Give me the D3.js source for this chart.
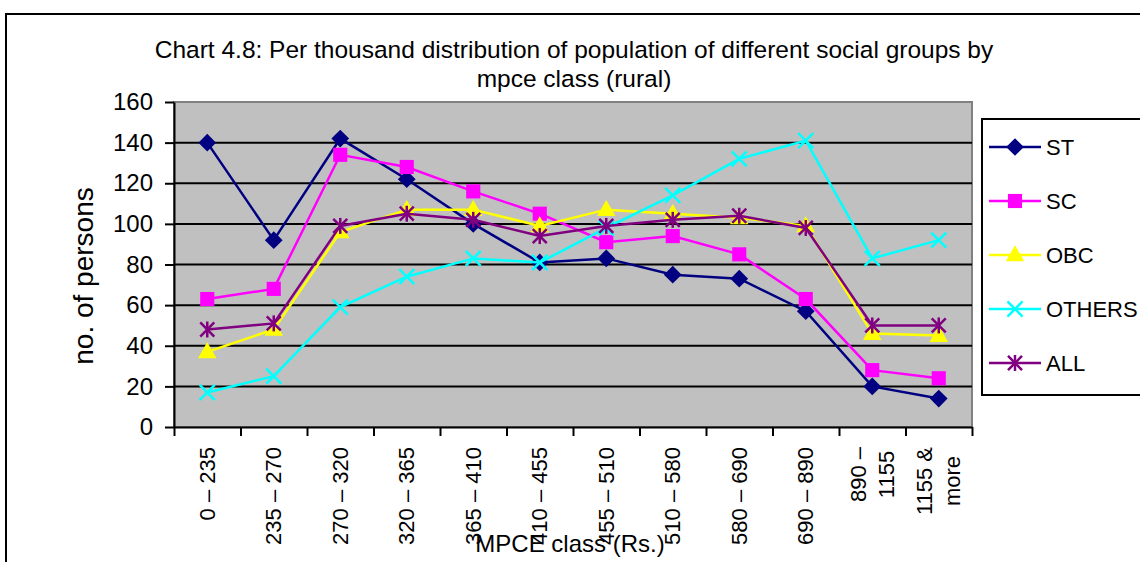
<!DOCTYPE html>
<html>
<head>
<meta charset="utf-8">
<script src="https://cdn.jsdelivr.net/npm/d3@7"></script>
<style>
  html, body { margin: 0; padding: 0; background: #fff; }
  svg { display: block; font-family: "Liberation Sans", Arial, sans-serif; }
</style>
</head>
<body>
<svg id="chart" width="1140" height="562"></svg>
<script>
// ---- data ----
const categories = ["0 – 235", "235 – 270", "270 – 320", "320 – 365", "365 – 410", "410 – 455",
  "455 – 510", "510 – 580", "580 – 690", "690 – 890", "890 –\n1155", "1155 &\nmore"];
const seriesNames = ["ST", "SC", "OBC", "OTHERS", "ALL"];
const stValues     = [140, 92, 142, 122, 100, 81, 83, 75, 73, 57, 20, 14];
const scValues     = [63, 68, 134, 128, 116, 105, 91, 94, 85, 63, 28, 24];
const obcValues    = [37, 48, 96, 107, 107, 99, 107, 105, 103, 99, 46, 45];
const othersValues = [17, 25, 59, 74, 83, 81, 98, 114, 132, 141, 83, 92];
const allValues    = [48, 51, 99, 105, 102, 94, 99, 102, 104, 98, 50, 50];
const yTicks = [0, 20, 40, 60, 80, 100, 120, 140, 160];
const titleLines = ["Chart 4.8: Per thousand distribution of population of different social groups by", "mpce class (rural)"];
const yTitle = "no. of persons";
const xTitle = "MPCE class (Rs.)";

// ---- styles ----
const colors = { ST: "#000080", SC: "#FF00FF", OBC: "#FFFF00", OTHERS: "#00FFFF", ALL: "#800080" };
const seriesData = [
  { name: "ST", values: stValues },
  { name: "SC", values: scValues },
  { name: "OBC", values: obcValues },
  { name: "OTHERS", values: othersValues },
  { name: "ALL", values: allValues }
];

const svg = d3.select("#chart");
const plot = { left: 174, right: 972, top: 102, bottom: 427 };

// outer chart border
svg.append("rect").attr("x", 6).attr("y", 14).attr("width", 1200).attr("height", 700)
  .attr("fill", "#fff").attr("stroke", "#000").attr("stroke-width", 2);

const x = d3.scaleBand().domain(categories).range([plot.left, plot.right]).padding(0);
const xEdge = d3.scaleLinear().domain([0, categories.length]).range([plot.left, plot.right]);
const y = d3.scaleLinear().domain([0, 160]).range([plot.bottom, plot.top]);

// plot background
svg.append("rect").attr("x", plot.left).attr("y", plot.top)
  .attr("width", plot.right - plot.left).attr("height", plot.bottom - plot.top)
  .attr("fill", "#C0C0C0").attr("stroke", "#808080").attr("stroke-width", 2);

// gridlines
svg.append("g").selectAll("line").data(yTicks.filter(d => d > 0 && d < 160)).join("line")
  .attr("x1", plot.left).attr("x2", plot.right)
  .attr("y1", d => y(d)).attr("y2", d => y(d))
  .attr("stroke", "#000").attr("stroke-width", 2);

// y axis
const yAxis = svg.append("g").attr("transform", `translate(${plot.left},0)`)
  .call(d3.axisLeft(y).tickValues(yTicks).tickSize(9).tickPadding(12).tickSizeOuter(0));
yAxis.select(".domain").attr("stroke", "#000").attr("stroke-width", 2);
yAxis.selectAll(".tick line").attr("stroke", "#000").attr("stroke-width", 2);
yAxis.selectAll(".tick text").attr("font-size", 24).attr("fill", "#000")
  .attr("font-family", "Liberation Sans, Arial, sans-serif");

// x axis (ticks at category boundaries)
const xAxis = svg.append("g").attr("transform", `translate(0,${plot.bottom})`)
  .call(d3.axisBottom(xEdge).tickValues(d3.range(categories.length + 1)).tickFormat("").tickSize(9).tickSizeOuter(0));
xAxis.select(".domain").attr("stroke", "#000").attr("stroke-width", 2);
xAxis.selectAll(".tick line").attr("stroke", "#000").attr("stroke-width", 2);

// x category labels, rotated
const labelTop = 447;
const lab = svg.append("g").selectAll("text").data(categories).join("text")
  .attr("font-size", 22).attr("fill", "#000");
lab.each(function (d) {
  const t = d3.select(this);
  const lines = d.split("\n");
  const cx = x(d) + x.bandwidth() / 2;
  if (lines.length === 1) {
    t.attr("transform", `translate(${cx},${labelTop}) rotate(-90)`)
      .attr("text-anchor", "end").attr("dy", "0.35em").text(d);
  } else {
    const spans = t.selectAll("tspan").data(lines).join("tspan")
      .attr("x", 0).attr("y", (l, i) => (i - (lines.length - 1) / 2) * 28).attr("dy", "0.35em").text(l => l);
    let maxLen = 0;
    spans.each(function () { maxLen = Math.max(maxLen, this.getComputedTextLength()); });
    t.attr("text-anchor", "middle")
      .attr("transform", `translate(${cx},${labelTop + maxLen / 2}) rotate(-90)`);
  }
});

// lines
const line = d3.line().x((d, i) => x(categories[i]) + x.bandwidth() / 2).y(d => y(d));
const sym = {
  ST: d3.symbol().type(d3.symbolDiamond2).size(200),
  SC: d3.symbol().type(d3.symbolSquare).size(200),
  OBC: d3.symbol().type(d3.symbolTriangle).size(150),
  OTHERS: d3.symbol().type(d3.symbolTimes).size(150),
  ALL: d3.symbol().type(d3.symbolTimes).size(130)
};
function drawMarker(g, name, cx, cy) {
  const c = colors[name];
  if (name === "OTHERS") {
    g.append("path").attr("d", sym.OTHERS()).attr("transform", `translate(${cx},${cy})`)
      .attr("fill", "none").attr("stroke", c).attr("stroke-width", 2.5);
  } else if (name === "ALL") {
    g.append("path").attr("d", sym.ALL()).attr("transform", `translate(${cx},${cy})`)
      .attr("fill", "none").attr("stroke", c).attr("stroke-width", 2.5);
    g.append("line").attr("x1", cx).attr("x2", cx).attr("y1", cy - 8).attr("y2", cy + 8)
      .attr("stroke", c).attr("stroke-width", 2.5);
  } else if (name === "OBC") {
    g.append("path").attr("d", sym.OBC()).attr("transform", `translate(${cx},${cy + 1})`)
      .attr("fill", c);
  } else {
    g.append("path").attr("d", sym[name]()).attr("transform", `translate(${cx},${cy})`)
      .attr("fill", c);
  }
}
const seriesG = svg.append("g");
seriesData.forEach(s => {
  const g = seriesG.append("g");
  g.append("path").attr("d", line(s.values)).attr("fill", "none")
    .attr("stroke", colors[s.name]).attr("stroke-width", 2.5);
  s.values.forEach((v, i) => drawMarker(g, s.name, x(categories[i]) + x.bandwidth() / 2, y(v)));
});

// legend
const legend = svg.append("g");
legend.append("rect").attr("x", 982).attr("y", 119).attr("width", 200).attr("height", 276)
  .attr("fill", "#fff").attr("stroke", "#000").attr("stroke-width", 2);
seriesNames.forEach((n, i) => {
  const ly = 147 + i * 54;
  legend.append("line").attr("x1", 989).attr("x2", 1041).attr("y1", ly).attr("y2", ly)
    .attr("stroke", colors[n]).attr("stroke-width", 2.5);
  drawMarker(legend, n, 1015, ly);
  legend.append("text").attr("x", 1046).attr("y", ly).attr("dy", "0.36em")
    .attr("font-size", 22).attr("fill", "#000").text(n);
});

// title
svg.append("text").attr("x", 574).attr("text-anchor", "middle").attr("font-size", 24.5).attr("fill", "#000")
  .selectAll("tspan").data(titleLines).join("tspan")
  .attr("x", 574).attr("y", (d, i) => 58 + i * 29).text(d => d);

// axis titles
svg.append("text").attr("transform", `translate(93,276) rotate(-90)`).attr("text-anchor", "middle")
  .attr("font-size", 28).attr("fill", "#000").text(yTitle);
svg.append("text").attr("x", 570).attr("y", 552).attr("text-anchor", "middle")
  .attr("font-size", 24).attr("fill", "#000").text(xTitle);
</script>
</body>
</html>
